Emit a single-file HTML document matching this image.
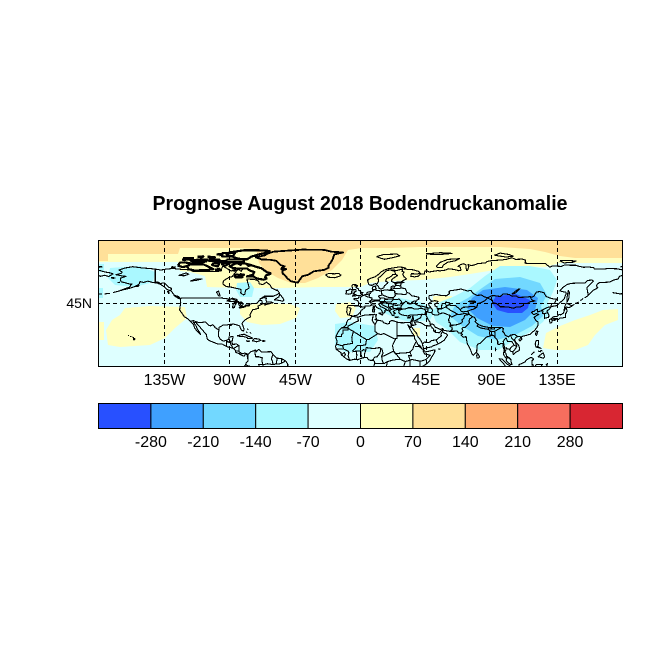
<!DOCTYPE html>
<html><head><meta charset="utf-8"><style>
html,body{margin:0;padding:0;background:#fff;}
svg{display:block;}
.geo *{vector-effect:non-scaling-stroke;fill:none;stroke:#000;stroke-width:1.1;stroke-linejoin:round;shape-rendering:crispEdges;}
.geo .thick *{stroke-width:2.2;}
.geo .gl{stroke-width:1.8;}
text{font-family:"Liberation Sans",Arial,Helvetica,sans-serif;fill:#000;}
</style></head><body>
<svg width="654" height="654" viewBox="0 0 654 654" xmlns="http://www.w3.org/2000/svg">
<rect width="654" height="654" fill="#fff"/>
<text x="360" y="210" font-size="20" font-weight="bold" text-anchor="middle" textLength="415" lengthAdjust="spacingAndGlyphs">Prognose August 2018 Bodendruckanomalie</text>
<defs><clipPath id="mc"><rect x="98.5" y="240.5" width="524" height="126"/></clipPath></defs>
<g clip-path="url(#mc)">
<rect x="98" y="240" width="526" height="128" fill="#DEFFFF"/>
<!-- yellow (0..70) -->
<polygon fill="#FFFFC0" points="98,240 623,240 623,263 560,263 545,267 520,266 495,270 470,274 450,277 420,280 390,281 370,283 360,287 320,287 280,288 240,288 207,287 205,276 190,272 180,271 178,262 108,262 98,262"/>
<polygon fill="#AAF8FF" points="237,283 250,282 254,288 252,297 240,297 236,290"/>
<polygon fill="#FFFFC0" points="240,306 262,303 290,304 300,308 296,318 280,324 262,325 247,322 240,314"/>
<polygon fill="#FFFFC0" points="336,304 350,302 356,308 352,317 340,318 335,311"/>
<polygon fill="#FFFFC0" points="125,308 150,306 185,307 187,318 175,328 165,338 150,345 120,347 108,345 106,330 112,320 120,315"/>
<rect x="98" y="322" width="6" height="18" fill="#FFFFC0"/>
<polygon fill="#FFFFC0" points="543,348 546,333 560,326 575,320 590,315 603,310 618,309 618,320 605,325 595,335 588,345 575,350 555,350"/>
<rect x="433" y="296" width="19" height="6" fill="#FFFFC0"/>
<rect x="413" y="328" width="7" height="8" fill="#FFFFC0"/>
<!-- orange (70..140) -->
<polygon fill="#FFE099" points="98,240 623,240 623,258 600,258 575,258 560,256 545,252 530,249 500,247 420,247 390,248 362,248 348,250 342,260 332,270 318,278 305,283 291,283 278,278 266,271 259,263 256,249 240,248 180,248 178,254 108,254 108,261 98,261"/>
<!-- light blue (-70..-140) -->
<polygon fill="#AAF8FF" points="500,266 530,266 550,270 557,280 553,292 548,302 550,312 543,322 530,332 515,340 498,350 480,350 460,342 448,330 436,322 432,312 440,302 455,296 470,288 485,276"/>
<polygon fill="#AAF8FF" points="380,300 400,298 420,302 435,310 430,320 410,322 395,318 378,310"/>
<polygon fill="#AAF8FF" points="335,324 350,322 375,326 378,340 370,352 345,352 335,345"/>
<polygon fill="#AAF8FF" points="110,268 140,266 155,272 153,282 135,287 115,285 108,278"/>
<rect x="98" y="264" width="6" height="8" fill="#AAF8FF"/>
<rect x="98" y="288" width="5" height="10" fill="#AAF8FF"/>
<!-- mid blue -->
<polygon fill="#72D8FF" points="495,279 520,277 540,283 547,295 541,306 543,316 532,326 515,335 497,340 478,336 462,326 450,316 455,305 468,298 482,288"/>
<!-- blue -->
<polygon fill="#3FA0FF" points="483,290 505,287 527,290 538,298 535,310 525,320 510,327 493,326 477,318 467,308 472,298"/>
<!-- dark blue -->
<polygon fill="#2850FF" points="496,296 516,294 530,300 528,308 522,313 508,313 497,310 492,303"/>

<g class="geo" transform="translate(360.5,366.5) scale(1.45556,-1.4)">
<polyline points="9.3,0 9.6,2.5 9.8,3.1 8.9,4.5 7,4.4 5.5,4.9 4.5,6.3 2,6.3 0,5.6 -2,4.8 -4,5.2 -7.5,4.4 -9.5,5.4 -11.4,6.8 -13.2,8.5 -13.3,9.8 -15,11 -16.7,12.4 -17.1,14.4 -16.5,16 -16.1,18 -16.5,19.5 -17,21 -16,23.5 -14.5,26 -13,27.7 -11.5,28.2 -9.8,29.8 -9.6,31.5 -8.5,33.3 -6.8,34.1 -6,35.8 -5.3,35.9 -2,35.1 0,35.8 3,36.8 7.5,37 9.8,37.3 10.3,36.7 11,37 10.5,35.5 11,34 10,33.5 11.5,33.1 13,32.9 15.3,32.3 15.7,31.4 18.5,30.3 20,30.9 20,32.2 21.5,32.8 23,32.6 25,31.7 27,31.3 29.7,31.2 31.8,31.5 34.2,31.3 34.9,32.8 35.5,34 35.9,35.5 36,36.8 34.5,36.8 32.5,36.1 30.5,36.5 29,36.7 27.3,37.5 26.3,38.3 26.5,39.5 26.2,40.1 27.5,40.4 29,41"/>
<polyline points="29,41 31,41.2 33,42 35,42 37,41.1 39,41.1 41.6,41.5 41.5,42.8 39.8,43.5 38,44.4 37.3,45.2 38.5,46.8 37,46.9 35,45.7 36.4,45.2 35.3,44.9 33.5,44.5 33.3,45.2 31.2,46.6 30,45.7 29.6,45 28.7,44.3 27.7,42.5 28,41.5 29,41"/>
<polyline points="28,41.2 26,40.8 23.5,40.3 22.5,39 24,38 23,37.9 23,36.5 22,36.5 21,38 19.4,40 19.5,41.7 17,43 15,44 14,45 13.7,45.7 12.4,44.5 14,42.7 16,41.8 18,40.7 18.5,40.1 17.3,40.4 16.5,39.8 17,39 16.2,38.2 15.6,38 14,40.8 12.5,41.5 11,42.3 10,44 8,44 6,43.1 3.2,43.2 3,41.9 0.3,40 0,38.8 -2,36.7 -5.5,36 -6,36.2 -8.8,37 -9.5,39 -9,43 -8,43.7 -4,43.4 -1.5,43.4 -1.2,46 -2.2,47.2 -4.5,47.8 -4.6,48.6 -1.5,48.7 -1.5,49.7 0.2,49.6 1.5,50.5 2.5,51.1 4,51.5 4.7,53 7,53.5 8.6,53.9 8.1,55.5 8.2,56.8 10.5,57.6 10.3,56.5 10.8,55.5 9.8,55 10.9,54.4 12,54.2 14,54 16,54.5 18.5,54.8 19.7,54.4 21.2,55.2 21,56.8 22,57.6 23.5,57 24.4,58.4 23.5,59.2 26,59.6 28.6,59.8 30,60 28.5,60.5 26.6,60.4 22.9,59.9 21.4,60.7 21.5,62.2 25.4,65 24,65.8 22,65.6 21.3,64.5 19.5,63.5 17.8,62.7 17.3,61 18.8,60.1 18.4,59.3 16.5,57.7 16,56.2 14.3,55.4 12.8,55.7 12.5,56.8 11.2,58.4 10.6,59.3 9.5,58.9 8,58 6.5,58.1 5.5,59 5,61 5,62 7,63 10,64 12,65.5 14,67.5 16,68.7 19,69.8 23.5,70.6 26,71 28.7,70.9 31,70.2 30,69.7 33,69.3 36,69.1 40,67.9 41,66.6 39,66.1 35,66.3 34.5,64.5 37,64 39.7,64.5 41,66 44,66.2 44.2,68.2 46,68.2 47,67.5 53,68.5 54.5,68.3 58,68.8 60.5,69.8 64.5,69.3 67.5,68.4 69,68.8 68.5,71 67,71.5 68.8,72.8 71,73.4 72.5,72.5 72.5,71 72.8,68.7 73.5,68.5 74.5,71.5 73.8,72.8 76,72.2 78,72.4 80.5,73.5 86,74 87,75 90,75.6 97,76.1 100,76.5 104,77.7 106.5,76.5 111,76.7 113.5,76 113,73.8 118,73.5 124,73.5 127,73.5 130,71 132,71.8 138,71.5 140,72.4 148,72.3 150,71.6 153,70.9 157,71 160,70.7 161,69.5 167,69.6 170,70 176,69.8 180,69"/>
<polyline points="-180,68.8 -175,67.4 -172,66.9 -170,66.2 -171,65.5 -173,64.3 -176,65.2 -178.5,64.4 -180,65"/>
<polyline points="180,65 178,64.5 177,62.5 174,61.8 171,60.3 166,60 164,59.9 163,59 162,57.8 163,56.2 160,54.5 158.5,53 156.5,51 156,53.5 155.5,56.5 157,57.8 160,61 159,61.7 156,61.5 154,59.5 150,59.6 145,59.4 142,58.6 139,56.5 137,54 141,53 141.4,52 140.5,50 140,48.3 138,46.5 135,43.5 132,43 131,42.6 129.7,41 128,39.5 129.4,37 129.3,35.2 126.5,34.4 126.3,36.8 126.2,37.7 125,38 125.4,39.5 124.3,39.9 121.7,39 121.5,40.9 121,40.8 119,39.2 118,39.1 117.6,38.5 118.5,37.5 119.2,37.1 120.8,37.8 122.5,37.2 120.5,36.1 119.2,34.9 120.5,33 121.9,31.7 121.9,30.8 122,29.8 121.5,28.3 120.5,27 119.5,25.5 118,24.5 116.5,23 114,22.3 111,21.5 110.2,20.3 109.7,21.5 108,21.5 106.7,20.7 105.8,19 106.5,17.5 108.5,15.5 109.3,13 109,11.4 107,10.4 105,8.6 104.8,9.6 104.5,10.4 103,11 102.5,12.2 100.9,12.7 100,13.5 100,12.2 99.2,10.3 99.9,9.2 100.4,7.2 101.3,6.9 102.1,6.2 103.4,4.8 103.4,3.4 104.2,1.4 103.5,1.3 101.4,2.7 100.1,4.4 100.3,5.5 98.5,8 98.3,9.1 98.7,12 98,14 97.7,16.5 96.5,16.5 95.4,15.7 94.3,16 94.3,18.2 93.5,19.5 92.3,20.7 92,21.7 90.6,22.4 89.5,21.9 88.5,21.6 86.9,21.2 85,19.5 82.2,16.6 80.3,15.8 80,13.5 79.8,10.3 78.3,8.9 77.5,8 76.6,8.9 75.8,11.3 74.6,14 73.5,16 72.8,19.2 72.6,21.4 70.5,20.9 69,22.4 70.2,22.9 68.8,23.8 67.4,23.9 66.4,25.4 64.5,25.2 61.5,25.1 58.5,25.6 57.4,25.7 56.4,27.1 54.7,26.5 52.5,27.6 51.5,27.9 50.1,30.1 48.9,30.3 48,29.9 48.4,28.6 49.3,27.5 50.2,26.7 50.2,25.6 50.8,24.8 51.3,26.1 51.6,25.3 51.6,24.3 54,24.1 55.5,25.4 56.3,26.3 56.4,24.9 57.4,23.9 58.8,23.5 59.8,22.3 58.5,20.4 57.7,19 56.3,17.9 55.3,17.2 52.2,15.6 49.5,14.6 48.7,14 45.6,13.3 43.5,12.6 42.8,14.8 42.6,16.4 41.2,19 39.1,21.8 38.5,23.7 37.5,24.9 35.2,28 35,29.5 34.2,27.8 32.5,29.9 33.5,27.5 35.5,24 36.9,22 37.2,19.8 38.4,18 39.3,15.9 41.2,14.5 42.3,12.5 43.3,11.9 44.5,10.4 46.6,10.8 49.7,11.6 51.1,11.9 51,10.6 50.5,9.2 48.9,6.8 47.7,4.2 46,2.3 43.5,0.6 42.5,0"/>
<polyline points="46.7,44.5 47.5,43 48.5,41.8 49.5,40.3 49.2,39 48.9,38.4 49.5,37.4 51,36.8 53.5,36.9 54,38 53,39.5 53.5,40.8 52.8,41.3 52.5,42.8 51.3,43.2 50.8,44.6 52.5,45.3 53.2,46.5 51,47.1 49,46.5 47.5,45.6 46.7,44.5"/>
<polyline points="58.5,46 61,45.5 61.5,44.3 59,43.5 58.3,44.8 58.5,46"/>
<polyline points="104,51.7 106.5,52.5 109.5,55.5 108.5,55.3 105.5,53 104,51.7"/>
<polyline points="74,46.5 77,46.8 79,46.5 79,45.8 76,46 74,46.5"/>
<polyline points="-141,69.6 -145,70 -150,70.4 -156.5,71.3 -162,70.3 -166,68.9 -163.7,67.5 -164.5,66.5 -168,65.6 -163,64.5 -161,64.4 -165,63 -165,62 -164.5,60.5 -162,59.9 -158,58.7 -157,58.9 -159,56.5 -162,55.5 -164.8,54.4 -162,55 -158,56 -154,57.5 -152,59 -151.5,60.7 -149,60 -146,61 -143,60 -140,59.7 -137,58.5 -135,57 -133,55 -130,54 -128,51 -124,49 -123.5,46 -124,42 -124.3,40.4 -122.5,37.8 -121,35.5 -118.5,34 -117.1,32.5 -116,31.5 -114.5,29.5 -114,27.5 -112,25 -110,23 -109.9,22.9 -110.5,24.2 -112.2,27 -113,29 -114.7,31.6 -113,31.3 -111,29 -109,26.5 -106,23 -105.5,20.5 -105,19.3 -103.5,18.3 -101,17.3 -98,16 -95,16 -92.5,14.5 -91,13.9 -88,13.2 -87,12.5 -86,11.5 -85.7,10 -84,9.5 -82,8.2 -80,7.3 -79,9 -78,8.3 -77.3,8 -77.5,6.5 -77.3,4 -78.5,2.5 -79,1.2 -80,0"/>
<polyline points="-50,0 -50,1.8 -51.5,4 -54,5.5 -57.5,6 -60,8.5 -61.5,10.6 -64,10.5 -68,10.5 -70,12.2 -71.5,10.5 -72,11.8 -75.5,10.5 -77.3,8.7 -79.5,9.6 -81.5,9 -83.5,10.8 -83.6,15 -85,16 -88,15.8 -88.3,17.5 -87.5,21.5 -90.4,21 -90.5,19.5 -92,18.6 -94.5,18.2 -96.3,19.5 -97.5,21.5 -97.7,24 -97.2,26 -97.3,27.8 -94.5,29.5 -92,29.6 -89.5,30.2 -89.2,29.2 -88,30.5 -85,29.7 -83,29 -82.6,27.5 -81.7,25.9 -80.4,25.2 -80,26.8 -81.3,30.5 -81,31.5 -79,33.5 -76.5,35 -75.5,35.5 -76,37 -75.6,37.5 -75,38.8 -74,40.5 -72,41 -70,41.6 -70.5,43 -68,44.4 -66.9,44.8 -64.5,45.3 -66,43.8 -63.5,44.6 -60,45.6 -61.5,46 -64.5,46.2 -65,47.8 -64.5,49 -66.5,49.2 -69,48.2 -66,50.2 -60,50.2 -57,51.5 -55.7,52.5 -57,54.5 -58,54.5 -61,56 -62,58 -64.5,60.3 -67,58.5 -69.5,59 -70,61 -73,62.3 -78,62.4 -77.5,60 -76.8,57.5 -76.5,56 -79,54.5 -79.5,51.5 -80.5,51.2 -82.3,52.5 -82,55 -88,56.5 -92.5,57.2 -94.5,59 -94.2,61 -92.3,62.5 -90.5,63.5 -88,64.3 -86.5,66.5 -84,69.5 -82,68 -81,69.5 -85,70 -89,68.2 -91,69.5 -94.5,71.8 -96,68.5 -98,67.8 -102,67.8 -108,68 -110,68 -115,67.8 -117,69 -123,69.4 -129,70 -134,69.5 -137,68.9 -141,69.6"/>
<g class="thick">
<polyline points="-80,73.7 -76,72.7 -71,71 -68,70.2 -66.5,69 -64,67.2 -62,66.8 -61.8,66.2 -65,65 -65.5,63.8 -64.5,62.8 -66.5,62 -71,62.8 -74,64.5 -78,64.3 -74,65.5 -73,67.5 -76,68.5 -78,70 -85,70 -88,70.5 -90,71.5 -86,73.5 -80,73.7"/>
<polyline points="-119,71.5 -117,73 -108,73 -104,71 -101,69.5 -106,68.8 -114,68.6 -118,69.5 -119,71.5"/>
<polyline points="-125.5,72 -124,74.2 -121,74.4 -116,73.5 -119,71.8 -122,71 -125.5,72"/>
<polyline points="-62,82.5 -70,83 -80,83 -90,81.5 -92,80 -88,78.5 -84,77 -78,76.5 -75,78.5 -70,80 -64,81.5 -62,82.5"/>
<polyline points="-92,76.5 -80,76.3 -80,74.5 -92,74.5 -92,76.5"/>
<polyline points="-95,81 -86,81.3 -88,78.5 -95,78.5 -95,81"/>
<polyline points="-117,76 -105,76.5 -106,75 -115,74.5 -117,76"/>
<polyline points="-122,77.3 -115,77.5 -117,76.5 -122,76.2 -122,77.3"/>
<polyline points="-104,76.5 -97,76.5 -98,75 -104,75.5 -104,76.5"/>
<polyline points="-97,75.5 -93,75.3 -94,74.6 -97,74.7 -97,75.5"/>
<polyline points="-101,74 -97,73.5 -98,71.5 -102,72.5 -101,74"/>
<polyline points="-95,74 -90,73.7 -93,72 -95,73 -95,74"/>
<polyline points="-87,64.8 -86,63.8 -81,63.8 -81.5,64.5 -85,65.8 -87,64.8"/>
<polyline points="-100,69 -96,68.5 -97,69.8 -100,69"/>
<polyline points="-105,78.5 -100,78 -102,77 -105,78.5"/>
<polyline points="-112,78.5 -108,78.7 -109,77.8 -112,78.5"/>
<polyline points="-83,66 -80,65.5 -82,65 -83,66"/>
<polyline points="-78,72.6 -75,72.3 -77,71.9 -78,72.6"/>
<polyline points="-110,75.5 -106,75.2 -108,74.6"/>
<polyline points="-99,80 -95,80.5 -97,79.3"/>
<polyline points="-84,73.2 -82,72.8 -83,72.4"/>
<polyline points="-88,68.5 -86,69 -87,68"/>
<polyline points="-130,71 -127,70.5"/>
</g>
<polyline class="gl" points="-60,82 -40,83.5 -25,83.3 -20,82 -12,81.5 -18,80 -19,77 -20,75 -22,72 -22,70.5 -25,69 -32,68 -36,65.5 -40,64.5 -43,60 -45,60.2 -48,61 -50,62.8 -51.5,64.5 -53.5,66.5 -53.5,68.5 -51,69.5 -54,70.5 -52,71.5 -55,72.5 -58,75.5 -62,76.2 -68,76.5 -72,78 -66,79.3 -64,80.5 -60,82"/>
<polyline class="gl" points="-55,69.5 -52.5,70 -53,69.2 -55,69.5"/>
<polyline points="-24,65.5 -22,66.4 -18,66.2 -15,66.5 -13.5,65.3 -14.5,64.4 -18,63.4 -22,63.8 -24,65.5"/>
<polyline points="11,78.5 16,80 25,80.3 27,79 21,77.5 16.5,76.6 14,77.3 11,78.5"/>
<polyline points="52,71.5 55,74.5 60,76.5 68,77 65,75.5 60,74.5 57,72.5 56,70.6 53,70.8 52,71.5"/>
<polyline points="45,80.5 55,81.3 63,80.8 55,80 48,80.2 45,80.5"/>
<polyline points="92,79.5 96,81 102,80 105,78.8 100,78.2 95,79 92,79.5"/>
<polyline points="137,75.5 143,75.8 148,75.3 146,74.5 140,74 137,75.5"/>
<polyline points="178.5,71 180,71.5"/><polyline points="-180,71.5 -177.5,71.2 -180,70.8"/>
<polyline points="-5.7,50.1 -3,50.6 0,50.8 1.4,51.3 0.8,51.8 1.7,52.7 0.3,53 0,53.6 -1.3,54.6 -1.6,55.6 -2.5,56 -3,56.5 -2,57.7 -4,57.6 -3,58.6 -5,58.6 -6,57.5 -5.5,56.3 -5.6,55.3 -4.9,54.8 -3.3,54.9 -3,53.5 -4.6,53.3 -4.2,52.3 -5.2,51.8 -3.2,51.4 -4.3,51.2 -5.7,50.1"/>
<polyline points="-6,52.2 -6,53.9 -5.5,54.8 -7.3,55.3 -8.5,54.3 -10,54.1 -9.5,53 -10.2,51.9 -8,51.6 -6,52.2"/>
<polyline points="12.4,38 15.6,38.3 15.1,36.7 12.4,38"/>
<polyline points="8.4,41 9.8,41 9.6,39 8.4,39 8.4,41"/>
<polyline points="8.6,42.9 9.5,42.9 9.4,41.4 8.7,41.7 8.6,42.9"/>
<polyline points="23.5,35.5 26.3,35.3 24,34.9 23.5,35.5"/>
<polyline points="32.3,35 34.5,35.6 33.9,34.6 32.3,34.7 32.3,35"/>
<polyline points="130.9,34 132.5,35.5 135,35.7 136.7,37.3 137.4,36.8 139.5,38.2 140,39.8 140,41 141.5,41.3 142,39.5 141,38 140.9,36.5 140.7,35 139.8,35.1 138.7,34.6 137,34.6 136,33.5 135,34.3 133,34.2 131,33.9 130.9,34"/>
<polyline points="129.7,33.5 131,33.9 131.9,33 131.3,31.3 130.2,31 129.7,33.5"/>
<polyline points="132.5,33 134.5,34.2 134.7,33.8 133,32.8 132.5,33"/>
<polyline points="140,41.5 140.5,43.2 141.5,45.4 143.4,44.3 145.5,43.3 143.3,42 141.5,42.5 140,41.5"/>
<polyline points="142,46 141.8,48 142.2,51.5 142.8,54.3 143.5,52.9 143.2,49.3 142.5,47 142,46"/>
<polyline points="145.5,43.5 147,44.5"/><polyline points="148,45.2 150,46"/><polyline points="151,47 153,48.5"/><polyline points="154,49 156.5,50.8"/>
<polyline points="120.1,23 121,25.3 121.9,25 120.9,22 120.1,23"/>
<polyline points="108.6,19.2 110.5,20.1 111,19.6 109.5,18.2 108.6,19.2"/>
<polyline points="120.6,18.5 122.2,18.5 122.3,16.3 121.7,14.2 124,13 120.6,13.9 120,16 120.6,18.5"/>
<polyline points="122,7 125.5,9.8 126.5,7 125.5,5.9 124,6.5 122,7"/>
<polyline points="122,11 123.5,10.5 124,11.5 125,11"/><polyline points="117.2,8.4 119.5,10.5"/>
<polyline points="109,0 109,1.5 110,1.7 111.5,2.6 113,3.2 114,4.6 116,6 117.5,6.5 119,5.3 118,4.3 117.7,1.5 118.8,1 117.6,0"/>
<polyline points="99.5,0 98.6,1.7 97,3.4 95.3,5.5 97.5,5.2 100.3,2 102.5,0.6 103.5,0"/>
<polyline points="120,0.5 120.8,1.3 124.5,1.5 125,1.5 124.3,0.4"/>
<polyline points="127.5,1 128.5,2 128,0.5"/>
<polyline points="79.8,7 80,9.5 81,8.5 81.8,7 81.3,6.2 80.2,6 79.8,7"/>
<polyline points="92.7,13.5 93,12 92.6,11"/>
<polyline points="53.3,12.6 54.5,12.5 54,12.3 53.3,12.6"/>
<polyline points="-84.9,21.9 -82,22.7 -80,23.1 -77.5,21.8 -75.6,21 -74.2,20.2 -77.5,19.9 -78,20.7 -81,21.6 -82.5,21.5 -84.9,21.9"/>
<polyline points="-74.4,18.4 -72.8,19.9 -70,19.7 -68.4,18.6 -70,18.2 -71.4,17.6 -72.8,18.1 -74.4,18.4"/>
<polyline points="-78.3,18.4 -76.3,18.1 -77,17.8 -78.3,18.2 -78.3,18.4"/>
<polyline points="-67.2,18.5 -65.6,18.3 -66,18 -67.2,18 -67.2,18.5"/>
<polyline points="-78,26.7 -77,26.5"/><polyline points="-78.5,25 -77.8,24.1"/><polyline points="-76,24.5 -75.3,23.5"/>
<polyline points="-59.3,47.6 -56,49.8 -55.5,51.6 -53.5,49.3 -52.7,47.5 -53.5,46.6 -55.5,47.2 -59.3,47.6"/>
<polyline points="-128.3,50.8 -125,48.6 -123.4,48.4 -125,50 -128.3,50.8"/>
<polyline points="-132.5,54 -131.5,53 -131.7,52 -132.3,53 -132.5,54"/>
<polyline points="-154,58 -152.2,58 -153,57 -154.5,57.1 -154,58"/>
<polyline points="-171.5,63.5 -168.5,63.3 -170,62.9 -171.5,63.5"/>
<polyline points="-166,60.3 -165.5,59.9 -167,60"/>
<polyline points="-159.8,22.2 -159.3,22.2 -159.5,21.9"/><polyline points="-158.2,21.6 -157.7,21.3 -158.1,21.3"/><polyline points="-156.7,20.9 -156,20.8 -156.4,20.6"/>
<polyline points="-155.9,20.2 -155,19.7 -155.6,18.9 -156,19.6 -155.9,20.2"/>
<polyline points="-164,54.5 -166,53.9 -168,53.3 -170,52.8"/><polyline points="-172,52.2 -174,52.1 -176,51.8"/><polyline points="-177.5,51.8 -180,51.9"/><polyline points="180,52 178,51.9 176,52.3 173,52.8"/>
<polyline points="-92,46.7 -88,48.8 -85,47.9 -84.5,46.5 -87,46.5 -90,46.6 -92,46.7"/>
<polyline points="-87.8,41.7 -87.7,44 -86.5,45.8 -85,45.8 -86.3,43.5 -86.5,42.2 -87.8,41.7"/>
<polyline points="-84.5,45.8 -81.5,45.9 -80.5,44.8 -81.7,43.2 -82.5,43 -83.5,44 -84,45.5 -84.5,45.8"/>
<polyline points="-83.5,41.7 -80,42.4 -79,42.8 -81,42.7 -83.2,42.1 -83.5,41.7"/>
<polyline points="-79.8,43.3 -76.3,43.4 -76.2,44.1 -79,43.8 -79.8,43.3"/>
<polyline points="-97.5,50.5 -96.5,50.5 -97.5,53.8 -99,53.2 -97.5,50.5"/>
<polyline points="-117,61 -113,61.5 -109,62.5 -113,62.5 -117,61"/>
<polyline points="-125,65 -120,66.8 -118,66 -121,64.8 -125,65"/>
<polyline points="-123.3,49 -95.2,49 -95.2,49.4 -94.6,48.7 -93,48.6 -90,48.1 -88.4,48.3 -84.8,46.7 -84.1,46.5 -83.6,46.1 -82.4,45 -82.1,43 -83.1,42.1 -82.7,41.7 -79,42.8 -79,43.3 -76.5,44.2 -74.7,45 -71.5,45 -70.9,45.3 -70,46.7 -69.2,47.4 -67.8,47 -67.8,45.7 -67,44.8"/>
<polyline points="-141,69.6 -141,60.3 -139,60.3 -137.5,59.2 -136,59.6 -135,59.8 -133.5,58.5 -131.7,56.6 -130,55.9 -130,54.7"/>
<polyline points="-117.1,32.5 -114.7,32.7 -111,31.3 -108.2,31.3 -108.2,31.8 -106.5,31.8 -104.5,29.6 -103,29 -101.5,29.8 -99.5,27.5 -97.2,25.9"/>
<polyline points="-92.2,14.5 -92,17.8 -91,17.8 -91,17.2 -89.2,17.9 -88.3,18.5"/><polyline points="-89.2,17.9 -89.2,15.9 -88.2,14.3 -87.8,13.4"/>
<polyline points="-87.3,12.9 -85.7,13.8 -84.5,14.7 -83.2,15"/><polyline points="-85.7,11.1 -83.7,10.9"/><polyline points="-83,8.3 -82.6,9.6"/><polyline points="-77.3,8.7 -77.9,7.2"/>
<polyline points="-72,11.8 -72.5,11 -72.3,8.5 -72,7 -70,7 -67.5,6.2 -67.7,3.8 -67.3,2 -66.8,1.2"/>
<polyline points="-60,8.5 -60.7,7.3 -61.2,5.2 -60.7,4.3 -60,1.3"/><polyline points="-57.1,6 -58,1.8"/><polyline points="-54,5.6 -54.3,2.3"/>
<polyline points="-51.5,4 -54.3,2.3 -56,1.8 -58,1.8 -60,1.3 -64,2 -66.8,1.2 -70,1.5 -69.5,0"/><polyline points="-79,1.2 -77,0.4 -75.5,0"/>
<polyline points="-1.8,43.3 0.5,42.7 3.2,42.4"/><polyline points="-8.2,42.1 -6.5,41.6 -7,39.6 -7.4,38 -7.5,37.2"/>
<polyline points="2.5,51.1 4.2,49.9 5.8,49.5 6.4,49.2 8,49 7.6,47.6 6,46.2 7,45.8 7.6,43.8"/>
<polyline points="4.2,51.4 6,51.8 6,50.8 6.1,50.1"/><polyline points="6,51.8 6.9,52.2 7.2,53.3"/><polyline points="8.6,54.9 9.8,54.8"/>
<polyline points="14.2,53.9 14.6,52.5 14.7,51 15,51.1 17,50.3 18.8,49.5 19.5,49.4 22.5,49.1 22.9,49.5"/>
<polyline points="12,50.3 13.8,48.7 13,47.5 10,47.5 9.5,47.3 7.6,47.6"/><polyline points="14.7,51 12,50.3"/>
<polyline points="13.8,48.7 15,49 16.9,48.6 17.1,48 16.5,47.5 16.5,46.5 13.7,46.5 12.2,47 10.5,46.8 9.5,47.3"/>
<polyline points="7,45.8 8.5,46.5 10.5,46.8"/><polyline points="13.7,45.7 15.5,45.5 16.5,46.5"/>
<polyline points="16.5,46.5 18.8,45.9 21,46.2 22.5,47.8 22.9,48 22.5,48.2 17.1,48"/>
<polyline points="22.9,48 24.9,47.8 26.6,48.2 28.2,46.5 28,45.5 29.6,45.2"/>
<polyline points="22.7,44.2 22.4,44.6 21.4,44.8 19,45 19.4,44 19.2,43.4 19.5,42.5"/><polyline points="15.5,45.5 19,45"/>
<polyline points="22.7,44 23.5,43.8 25,43.7 27.7,44 28.6,43.8"/><polyline points="22.4,44.4 22.4,42.3 22.9,41.3 26.3,41.7 28,42"/>
<polyline points="20,42.5 21,40.8 20.1,39.6"/><polyline points="21,40.8 22.9,41.3"/><polyline points="19.5,42.5 20,42.5 21.5,42.8 22.4,42.3"/><polyline points="26.3,41.7 26,40.8"/>
<polyline points="19.6,54.4 22.8,54.4 23.5,53.9 23.6,52 24,50.5 22.9,49.5"/><polyline points="22.8,54.4 21.2,55.2"/>
<polyline points="21,56 26.5,55.7 28,56.1 27.7,57.4 27.5,58 28,59.5"/>
<polyline points="26.5,55.7 28,56.1 30.8,55.6 31.8,53 33.5,52.3 35.4,50.5 38,50 40,49.5 40,48 38.5,47.3"/>
<polyline points="23.6,52 26,51.9 30.5,51.4 32,52"/><polyline points="24,57.8 25,58 27.5,57.5"/>
<polyline points="11.5,59 12.5,61 12,63 14,64.5 15.5,66.2 18,68.5 20.5,69 22.5,68.8 25,68.6 28.5,69.5 29,70"/>
<polyline points="24,65.8 23.7,67.8 20.5,69"/>
<polyline points="28.5,69.5 29,69 28.5,68 30,67.5 29,66 30,64 31.5,62.5 27.8,60.5"/>
<polyline points="39.8,43.5 42,43.2 44,42.6 46.4,41.9 48.5,41.8"/>
<polyline points="41.6,41.5 43.5,41.1 44.8,39.7 44.4,37.8 44.8,37.2 42.2,37.3 38,36.8 36,36.8"/>
<polyline points="43.5,41.1 46.5,41 46,39 48,38.5 48.9,38.4"/>
<polyline points="44.8,37.2 45.5,35.5 46.5,33.5 47.8,31.5 48,30"/>
<polyline points="42.2,37.3 41.2,34.7 38.8,33.4 39,32 42,31 44.7,29.2 47.6,29 48,30"/>
<polyline points="35.9,35 36.5,34.6 36.3,33.3 35.6,33.2 35.1,33"/><polyline points="38.8,33.4 36.5,32.4 35.6,32.7"/>
<polyline points="39,32 37,31.5 38,30 37,29.5 35,29.4"/><polyline points="35.5,33 35.5,31 35,29.5"/><polyline points="34.2,31.3 34.9,29.5"/>
<polyline points="42.8,16.4 44,17.4 47,17 49,18.6 52,19 55.7,22 55.2,23 56,24.2 56.4,24.9"/><polyline points="53,16.6 52,19"/>
<polyline points="53.9,37.4 55.5,38 57.3,38.2 60,37 61.2,36.6 61,34.5 60.5,33.6 60.9,31.5 61.8,31 61.5,28.5 62.8,28.1 62.8,27.2 63.3,26.8 61.6,25.2"/>
<polyline points="52.8,41.3 55.5,41.2 56,41.3 58.5,42.5 61,44.4 62,43.5 64.9,43.7 66,42.9 68.5,40.6 70.5,42.3 71,42.3 73.5,42.5 76,42.9 80,42.5"/>
<polyline points="55.5,41.2 56,45"/>
<polyline points="61.2,36.6 62.5,35.3 64.5,36.3 66.5,37.4 67.8,37.1 70,37.5 71.5,37.9 74.8,37.2"/>
<polyline points="58.5,42.5 60,41.5 62,40 64,39 66.5,37.4"/><polyline points="68.5,40.6 69,39.5 70.5,39 73.6,39.5"/>
<polyline points="74.8,37.2 71.5,36.5 71,34.5 69.8,33.5 70,32 69.3,31 66.5,29.9 64,29.5 62,29.5 61.5,28.5"/>
<polyline points="77,35.5 75,34 74.5,32.5 75,31.5 74,30 72,28 70.5,28 69.6,27 70.5,25.7 69.5,24.3 68.8,23.8"/>
<polyline points="87.3,49.1 85.5,47 82.5,45.5 80.5,45 80,42.5 78,41.1 76,40.5 73.6,39.5 74.8,37.2 77,35.5 78,35.5 79.5,33 78.7,32 81,30 84,28.7 88,27.9 89,28 92,27.8 97,28 98.2,27 97.7,25 98.7,24 99.5,22.2 101.7,21.2 103,22.5 106,22.9 107.8,21.6"/>
<polyline points="81,30 80,28.8 83,27.4 88,26.5 88,27.9"/><polyline points="89,28 89,26.8 92,26.8 92,27.8"/>
<polyline points="88,26.5 89,25.2 88.5,24 89,22.5 88.8,21.8"/><polyline points="89,25.2 92,25 92.5,24 92.3,21"/><polyline points="92,25 94.5,26.5 97,28"/>
<polyline points="100,20.5 98,18 98.5,16 99,13 98.8,10.2"/><polyline points="100,20.5 101,18 104,18 105.5,15 104,14.3 102.5,12.3"/>
<polyline points="107.5,14.5 106,12 104.5,10.4"/><polyline points="103,22.5 104,20 106,18 107.5,14.5"/><polyline points="105.5,15 107.5,14.5"/>
<polyline points="100.3,6.5 101.3,5.9 102.1,6.2"/>
<polyline points="49,46.5 47,48.5 47,50.5 52,51.5 55,50.8 59,50.5 61,52 61,54 65,54.6 69,55.3 73.5,54 76,54.3 77,52.5 80,50.8 83,51 85.5,49.6 87.3,49.1"/>
<polyline points="87.3,49.1 90,50.5 92,50.6 96,50 98,51.9 102,51.5 104,50.2 107,50.3 108.5,49.3 112,49.5 116.7,49.9"/>
<polyline points="87.3,49.1 88,48.5 90.5,47.5 91,45.5 93.5,45 96,42.7 101,42.6 105,41.6 107,42.4 110,42.6 112,43.7 111.8,45.1 114.5,44.9 117,46.5 119.9,46.7 117.5,47.7 116.7,49.9"/>
<polyline points="116.7,49.9 117.8,49.5 119.2,50.3 120.8,53.2 123,53.5 126,52.8 127.5,50 130.5,48.8 133,48.2 134.8,48.3 133.2,45 131.3,44.9 130.7,42.3"/>
<polyline points="124.3,40 126,41 128,42 129.7,42.5 130.7,42.3"/><polyline points="126.5,37.7 128.5,38.5"/>
<polyline points="25,31.7 25,22 36.9,22"/>
<polyline points="11.5,33.1 10,30 10,25 12,23.5 14,22.8 16,23.5 24,19.5 24,20 25,20 25,22"/>
<polyline points="8.6,36.9 8.3,34 8,33 9.5,30.5 10,30"/>
<polyline points="-1.7,35 -1.5,32.5 -3.6,31.6 -8.7,28.7 -8.7,27.3"/>
<polyline points="-8.7,27.7 -8.7,26 -12,26 -12,23.5 -13,23 -13,21.3 -17,21.3"/><polyline points="-13,27.7 -8.7,27.7"/>
<polyline points="-8.7,27.3 -4.8,25 1.2,21 4.2,19.2 5.8,19.4 12,23.5"/>
<polyline points="-4.8,25 -6,21 -5.5,16.5 -11.5,15.5 -12.2,14.7 -16.5,16"/>
<polyline points="4.2,19.2 3.5,15.5 1,15 0,14.9 -2,15 -5.5,11"/>
<polyline points="-12.2,14.7 -11.5,12.4 -8.5,11 -8,10 -8.5,7.6"/><polyline points="-16.7,12.4 -13.7,12.6 -11.5,12.4"/>
<polyline points="-13.2,8.5 -11,10 -10.3,8.5 -11.4,6.8"/><polyline points="-8.5,7.6 -7.5,4.4"/>
<polyline points="-5.5,10.5 -2.8,11 0,11 0.9,11 2,12 3.6,11.7 4,13.5 9,12.8 13,13.5 14,13"/>
<polyline points="-2.8,11 -2.5,8 -3,5"/><polyline points="0,11 0.5,8 1.2,6.1"/><polyline points="1.6,6.2 2.7,6.3 2.8,9 3.6,11.7"/>
<polyline points="8.5,4.5 9.5,6.5 11.5,7 13.5,10 14,13 14.5,13"/>
<polyline points="14.5,13 15.5,9.5 14.5,7.5 16,7.5 19,9 22.8,11 22,15 24,19.5"/>
<polyline points="14.5,7.5 15,4 16,2 14.5,2.2 11.3,2.2 9.8,2.2"/>
<polyline points="22.8,11 27.5,5 25,5 22,4.5 18.5,3.5 16,2"/><polyline points="18.5,3.5 17.8,0"/>
<polyline points="27.5,5 30.8,3.5 34,4.5"/><polyline points="36.5,14.2 36,12.5 34,10.5 35,7.5 33,8 34,4.5"/>
<polyline points="22.8,11 24,9 27,9.5 30,9.6 33,10 34,10.5"/>
<polyline points="34,4.5 35.5,5 40,4 42,4 45,5 48,8 44,9 42.8,11.5"/><polyline points="41,4 41,0"/><polyline points="34,4.5 33.9,0"/><polyline points="30.8,3.5 29.6,0"/>
<polyline points="36.5,14.2 38,17.5"/><polyline points="37.5,14.2 40,14.5 42.4,12.5"/>
</g>

<g stroke="#000" stroke-width="1" stroke-dasharray="4,3" fill="none" shape-rendering="crispEdges">
<line x1="164.5" y1="241" x2="164.5" y2="366"/>
<line x1="229.5" y1="241" x2="229.5" y2="366"/>
<line x1="295.5" y1="241" x2="295.5" y2="366"/>
<line x1="360.5" y1="241" x2="360.5" y2="366"/>
<line x1="426.5" y1="241" x2="426.5" y2="366"/>
<line x1="491.5" y1="241" x2="491.5" y2="366"/>
<line x1="557.5" y1="241" x2="557.5" y2="366"/>
<line x1="99" y1="303.5" x2="622" y2="303.5"/>
</g>
</g>
<rect x="98.5" y="240.5" width="524" height="126" fill="none" stroke="#000" stroke-width="1"/>

<g font-size="16" text-anchor="middle">
<text x="164.5" y="385">135W</text>
<text x="229.5" y="385">90W</text>
<text x="295.5" y="385">45W</text>
<text x="360.5" y="385">0</text>
<text x="426" y="385">45E</text>
<text x="491.5" y="385">90E</text>
<text x="557" y="385">135E</text>
</g>
<text x="92" y="308" font-size="14" text-anchor="end">45N</text>

<g stroke="#000" stroke-width="1">
<rect x="98.5" y="403.5" width="52.4" height="25" fill="#2850FF"/>
<rect x="150.9" y="403.5" width="52.4" height="25" fill="#3FA0FF"/>
<rect x="203.3" y="403.5" width="52.4" height="25" fill="#72D8FF"/>
<rect x="255.7" y="403.5" width="52.4" height="25" fill="#AAF8FF"/>
<rect x="308.1" y="403.5" width="52.4" height="25" fill="#DEFFFF"/>
<rect x="360.5" y="403.5" width="52.4" height="25" fill="#FFFFC0"/>
<rect x="412.9" y="403.5" width="52.4" height="25" fill="#FFE099"/>
<rect x="465.3" y="403.5" width="52.4" height="25" fill="#FFAD72"/>
<rect x="517.7" y="403.5" width="52.4" height="25" fill="#F76E5E"/>
<rect x="570.1" y="403.5" width="52.4" height="25" fill="#D82632"/>
</g>
<g font-size="16" text-anchor="middle">
<text x="150.9" y="447">-280</text>
<text x="203.3" y="447">-210</text>
<text x="255.7" y="447">-140</text>
<text x="308.1" y="447">-70</text>
<text x="360.5" y="447">0</text>
<text x="412.9" y="447">70</text>
<text x="465.3" y="447">140</text>
<text x="517.7" y="447">210</text>
<text x="570.1" y="447">280</text>
</g>
</svg>
</body></html>
